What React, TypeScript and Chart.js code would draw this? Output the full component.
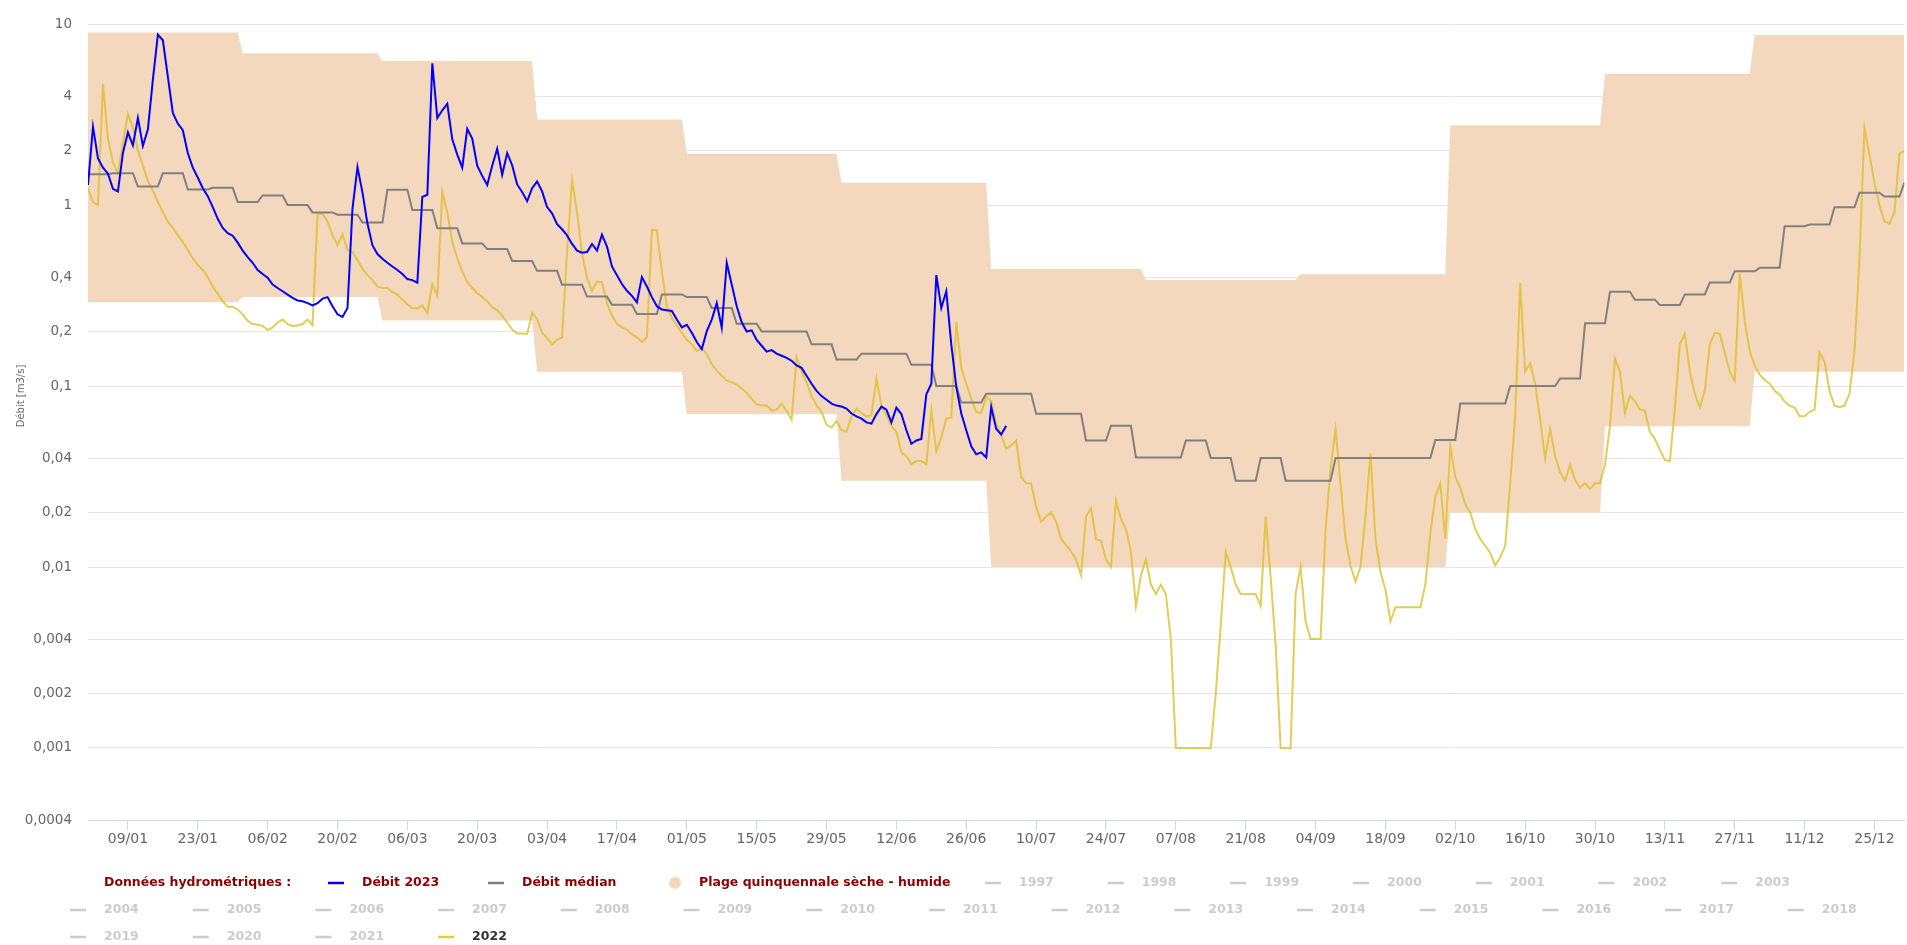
import React, { useEffect, useRef } from 'react';
import { Chart, registerables } from 'chart.js';

Chart.register(...registerables);

// ---------- DATA ----------
const monthDays = [31, 28, 31, 30, 31, 30, 31, 31, 30, 31, 30, 31];
const bandUpperMonthly = [9.0, 6.9, 6.25, 2.97, 1.92, 1.33, 0.443, 0.385, 0.415, 2.76, 5.32, 8.7];
const bandLowerMonthly = [0.29, 0.31, 0.23, 0.12, 0.07, 0.03, 0.01, 0.01, 0.01, 0.02, 0.06, 0.12];

// median, one value per 5-day block (73 blocks), plus the last day
const medianBlocks = [
  1.48, 1.5, 1.265, 1.5, 1.22, 1.245, 1.04, 1.13, 1.0, 0.911,
  0.885, 0.8, 1.217, 0.94, 0.745, 0.614, 0.571, 0.491, 0.433, 0.363,
  0.312, 0.281, 0.25, 0.321, 0.31, 0.27, 0.221, 0.2, 0.2, 0.17,
  0.14, 0.151, 0.151, 0.131, 0.1, 0.081, 0.0906, 0.0906, 0.0702, 0.0702,
  0.05, 0.0603, 0.0403, 0.0403, 0.05, 0.04, 0.03, 0.04, 0.03, 0.03,
  0.04, 0.04, 0.04, 0.04, 0.0503, 0.08, 0.08, 0.1, 0.1, 0.11,
  0.222, 0.332, 0.3, 0.28, 0.321, 0.373, 0.431, 0.45, 0.764, 0.78,
  0.974, 1.17, 1.115,
];
const medianDec31 = 1.33;

const flow2022 = [
  1.24, 1.04, 1.0, 4.68, 2.31, 1.72, 1.5, 2.21, 3.19, 2.67,
  2.0, 1.65, 1.36, 1.2, 1.04, 0.914, 0.81, 0.748, 0.68, 0.627,
  0.564, 0.508, 0.467, 0.438, 0.4, 0.355, 0.323, 0.294, 0.274, 0.274,
  0.265, 0.249, 0.229, 0.22, 0.218, 0.215, 0.204, 0.211, 0.225, 0.233,
  0.22, 0.215, 0.216, 0.22, 0.233, 0.217, 0.895, 0.895, 0.813, 0.68,
  0.6, 0.69, 0.564, 0.55, 0.497, 0.445, 0.41, 0.385, 0.355, 0.348,
  0.348, 0.33, 0.32, 0.3, 0.283, 0.27, 0.268, 0.279, 0.253, 0.366,
  0.316, 1.18, 0.914, 0.627, 0.508, 0.43, 0.376, 0.348, 0.326, 0.31,
  0.294, 0.273, 0.262, 0.245, 0.225, 0.205, 0.195, 0.195, 0.194, 0.253,
  0.235, 0.197, 0.184, 0.17, 0.18, 0.186, 0.55, 1.38, 0.914, 0.54,
  0.397, 0.336, 0.378, 0.375, 0.287, 0.245, 0.221, 0.211, 0.205, 0.193,
  0.186, 0.175, 0.186, 0.73, 0.725, 0.43, 0.276, 0.238, 0.215, 0.197,
  0.18, 0.17, 0.156, 0.163, 0.15, 0.132, 0.122, 0.114, 0.107, 0.105,
  0.102, 0.097, 0.092, 0.085, 0.079, 0.078, 0.078, 0.073, 0.074, 0.08,
  0.073, 0.065, 0.144, 0.12, 0.105, 0.088, 0.078, 0.072, 0.061, 0.059,
  0.064, 0.057, 0.056, 0.068, 0.075, 0.071, 0.068, 0.069, 0.11, 0.078,
  0.069, 0.06, 0.056, 0.043, 0.041, 0.037, 0.0385, 0.0385, 0.037, 0.0735,
  0.0435, 0.052, 0.066, 0.067, 0.226, 0.126, 0.103, 0.085, 0.072, 0.071,
  0.0875, 0.083, 0.062, 0.0535, 0.045, 0.047, 0.05, 0.0315, 0.029, 0.029,
  0.0215, 0.0178, 0.019, 0.02, 0.0178, 0.0143, 0.0132, 0.0122, 0.011, 0.009,
  0.019, 0.0212, 0.0142, 0.014, 0.011, 0.01, 0.0233, 0.0184, 0.0162, 0.0121,
  0.0061, 0.009, 0.011, 0.008, 0.0071, 0.008, 0.0071, 0.004, 0.001, 0.001,
  0.001, 0.001, 0.001, 0.001, 0.001, 0.001, 0.002, 0.0048, 0.0121, 0.01,
  0.008, 0.0071, 0.0071, 0.0071, 0.0071, 0.0061, 0.019, 0.0088, 0.0037, 0.001,
  0.001, 0.001, 0.0071, 0.01, 0.005, 0.004, 0.004, 0.004, 0.016, 0.035,
  0.058, 0.029, 0.0143, 0.0102, 0.0083, 0.01, 0.019, 0.0425, 0.0143, 0.0094,
  0.0075, 0.005, 0.006, 0.006, 0.006, 0.006, 0.006, 0.006, 0.008, 0.0154,
  0.0245, 0.029, 0.0143, 0.0465, 0.0315, 0.0275, 0.0222, 0.02, 0.0162, 0.0143,
  0.0131, 0.012, 0.0102, 0.0113, 0.0131, 0.029, 0.068, 0.37, 0.12, 0.1335,
  0.103, 0.0655, 0.0398, 0.058, 0.041, 0.0335, 0.03, 0.0368, 0.0303, 0.0275,
  0.029, 0.027, 0.029, 0.029, 0.037, 0.06, 0.142, 0.12, 0.0713, 0.088,
  0.0825, 0.074, 0.073, 0.0556, 0.051, 0.0445, 0.039, 0.0385, 0.075, 0.17,
  0.194, 0.12, 0.0906, 0.076, 0.094, 0.17, 0.197, 0.195, 0.153, 0.12,
  0.107, 0.42, 0.229, 0.156, 0.13, 0.116, 0.108, 0.103, 0.094, 0.09,
  0.082, 0.078, 0.076, 0.068, 0.068, 0.072, 0.074, 0.153, 0.136, 0.094,
  0.078, 0.0765, 0.078, 0.0906, 0.156, 0.51, 2.67, 1.9, 1.33, 1.0,
  0.813, 0.79, 0.914, 1.92, 2.0,
];

const flow2023 = [
  1.29, 2.71, 1.81, 1.61, 1.49, 1.23, 1.19, 1.94, 2.52, 2.14,
  3.03, 2.12, 2.62, 4.92, 8.74, 8.14, 5.13, 3.23, 2.82, 2.59,
  1.94, 1.61, 1.42, 1.24, 1.12, 0.974, 0.84, 0.748, 0.7, 0.677,
  0.62, 0.56, 0.515, 0.48, 0.438, 0.416, 0.397, 0.364, 0.348, 0.334,
  0.32, 0.307, 0.297, 0.294, 0.287, 0.279, 0.287, 0.304, 0.31, 0.276,
  0.249, 0.241, 0.27, 0.954, 1.62, 1.175, 0.79, 0.6, 0.536, 0.505,
  0.48, 0.458, 0.438, 0.416, 0.39, 0.385, 0.373, 1.11, 1.14, 6.07,
  3.03, 3.34, 3.63, 2.31, 1.9, 1.61, 2.64, 2.33, 1.65, 1.45,
  1.29, 1.65, 2.05, 1.47, 1.94, 1.66, 1.3, 1.18, 1.05, 1.24,
  1.35, 1.19, 0.975, 0.9, 0.785, 0.735, 0.68, 0.61, 0.56, 0.545,
  0.55, 0.61, 0.56, 0.686, 0.59, 0.458, 0.41, 0.366, 0.336, 0.315,
  0.29, 0.4, 0.355, 0.31, 0.276, 0.265, 0.262, 0.26, 0.233, 0.211,
  0.218, 0.197, 0.175, 0.16, 0.201, 0.233, 0.287, 0.21, 0.48, 0.364,
  0.276, 0.225, 0.2, 0.203, 0.18, 0.167, 0.155, 0.158, 0.151, 0.147,
  0.143, 0.138, 0.13, 0.126, 0.114, 0.103, 0.094, 0.088, 0.084, 0.08,
  0.078, 0.077, 0.075, 0.0705, 0.068, 0.066, 0.063, 0.062, 0.07, 0.077,
  0.074, 0.063, 0.076, 0.07, 0.057, 0.048, 0.05, 0.051, 0.09, 0.103,
  0.41, 0.27, 0.334, 0.17, 0.099, 0.0705, 0.057, 0.0465, 0.042, 0.043,
  0.0403, 0.0766, 0.058, 0.054, 0.0603,
];

const yTicks = [0.0004, 0.001, 0.002, 0.004, 0.01, 0.02, 0.04, 0.1, 0.2, 0.4, 1, 2, 4, 10];
const xTickDays = [8, 22, 36, 50, 64, 78, 92, 106, 120, 134, 148, 162, 176, 190, 204, 218, 232, 246, 260, 274, 288, 302, 316, 330, 344, 358];
const xTickLabels = ['09/01', '23/01', '06/02', '20/02', '06/03', '20/03', '03/04', '17/04', '01/05', '15/05', '29/05', '12/06', '26/06', '10/07', '24/07', '07/08', '21/08', '04/09', '18/09', '02/10', '16/10', '30/10', '13/11', '27/11', '11/12', '25/12'];
const legendYears = ['1997', '1998', '1999', '2000', '2001', '2002', '2003', '2004', '2005', '2006', '2007', '2008', '2009', '2010', '2011', '2012', '2013', '2014', '2015', '2016', '2017', '2018', '2019', '2020', '2021', '2022'];

// ---------- STYLE ----------
const FONT = '"DejaVu Sans", "Noto Sans", sans-serif';
const BAND_COLOR = '#f3d8be';
const C2023 = '#0000ff';
const CMED = '#808080';
const C2022 = 'rgba(222,190,40,0.78)';
const LEG_RED = '#8b0000';
const LEG_OFF = '#cccccc';

function expandMonthly(vals: number[]) {
  const out: { x: number; y: number }[] = [];
  let d = 0;
  monthDays.forEach((n, m) => {
    for (let i = 0; i < n; i++) { out.push({ x: d, y: vals[m] }); d++; }
  });
  return out;
}

const overlayPlugin = {
  id: 'overlay',
  afterDraw(chart: any) {
    const ctx: CanvasRenderingContext2D = chart.ctx;
    ctx.save();
    // axis title
    ctx.translate(21, 396);
    ctx.rotate(-Math.PI / 2);
    ctx.font = `10px ${FONT}`;
    ctx.fillStyle = '#666666';
    ctx.textAlign = 'center';
    ctx.textBaseline = 'middle';
    ctx.fillText('Débit [m3/s]', 0, 0);
    ctx.restore();

    // legend
    ctx.save();
    ctx.font = `bold 12.5px ${FONT}`;
    ctx.textBaseline = 'middle';
    ctx.textAlign = 'left';
    type Item = { text: string; x: number; y: number; color: string; sym: string; symColor: string };
    const items: Item[] = [];
    const r1 = 883, r2 = 910, r3 = 937, step = 122.7;
    items.push({ text: 'Données hydrométriques :', x: 104, y: r1, color: LEG_RED, sym: 'none', symColor: '' });
    items.push({ text: 'Débit 2023', x: 362, y: r1, color: LEG_RED, sym: 'line', symColor: C2023 });
    items.push({ text: 'Débit médian', x: 522, y: r1, color: LEG_RED, sym: 'line', symColor: CMED });
    items.push({ text: 'Plage quinquennale sèche - humide', x: 699, y: r1, color: LEG_RED, sym: 'circle', symColor: BAND_COLOR });
    legendYears.forEach((yr, i) => {
      let x: number, y: number;
      if (i < 7) { x = 1019 + i * step; y = r1; }
      else if (i < 22) { x = 104 + (i - 7) * step; y = r2; }
      else { x = 104 + (i - 22) * step; y = r3; }
      const on = yr === '2022';
      items.push({ text: yr, x, y, color: on ? '#333333' : LEG_OFF, sym: 'line', symColor: on ? '#e3c84a' : LEG_OFF });
    });
    items.forEach((it) => {
      if (it.sym === 'line') {
        ctx.strokeStyle = it.symColor;
        ctx.lineWidth = 2.5;
        ctx.beginPath();
        ctx.moveTo(it.x - 34, it.y);
        ctx.lineTo(it.x - 18, it.y);
        ctx.stroke();
      } else if (it.sym === 'circle') {
        ctx.fillStyle = it.symColor;
        ctx.beginPath();
        ctx.arc(it.x - 24, it.y, 6, 0, Math.PI * 2);
        ctx.fill();
      }
      ctx.fillStyle = it.color;
      ctx.fillText(it.text, it.x, it.y);
    });
    ctx.restore();
  },
};

export default function App() {
  const ref = useRef<HTMLCanvasElement | null>(null);

  useEffect(() => {
    if (!ref.current) return;
    Chart.defaults.font.family = FONT;

    const pts2022 = flow2022.map((v, i) => ({ x: i, y: v }));
    const pts2023 = flow2023.map((v, i) => ({ x: i, y: v }));
    const ptsMedian = flow2022.map((_, i) => ({ x: i, y: i === 364 ? medianDec31 : medianBlocks[Math.floor(i / 5)] }));
    const ptsUpper = expandMonthly(bandUpperMonthly);
    const ptsLower = expandMonthly(bandLowerMonthly);

    const chart = new Chart(ref.current, {
      type: 'line',
      data: {
        datasets: [
          { label: 'Débit 2023', data: pts2023, borderColor: C2023, borderWidth: 2, pointRadius: 0, fill: false, order: 0 },
          { label: 'Débit médian', data: ptsMedian, borderColor: CMED, borderWidth: 2, pointRadius: 0, fill: false, order: 1 },
          { label: '2022', data: pts2022, borderColor: C2022, borderWidth: 2, pointRadius: 0, fill: false, order: 2 },
          { label: 'Plage haut', data: ptsUpper, borderColor: 'transparent', borderWidth: 0, pointRadius: 0, backgroundColor: BAND_COLOR, fill: '+1', order: 3 },
          { label: 'Plage bas', data: ptsLower, borderColor: 'transparent', borderWidth: 0, pointRadius: 0, fill: false, order: 3 },
        ] as any,
      },
      options: {
        animation: false,
        responsive: false,
        maintainAspectRatio: false,
        devicePixelRatio: 1,
        layout: { padding: { top: 17, right: 2.6, left: 0, bottom: 0 } },
        elements: { line: { tension: 0 }, point: { radius: 0 } },
        plugins: { legend: { display: false }, tooltip: { enabled: false }, title: { display: false } },
        scales: {
          x: {
            type: 'linear',
            min: 0,
            max: 364,
            afterBuildTicks: (s: any) => { s.ticks = xTickDays.map((v) => ({ value: v })); },
            afterFit: (s: any) => { s.height = 125; },
            grid: { drawOnChartArea: false, drawTicks: true, tickLength: 10, color: '#ccd6eb', lineWidth: 1 },
            border: { color: '#ccd6eb', width: 1 },
            ticks: {
              autoSkip: false,
              maxRotation: 0,
              padding: 1,
              color: '#666666',
              font: { size: 14 },
              callback: (v: any) => { const i = xTickDays.indexOf(Number(v)); return i >= 0 ? xTickLabels[i] : ''; },
            },
          },
          y: {
            type: 'logarithmic',
            min: 0.0004,
            max: 10,
            afterBuildTicks: (s: any) => { s.ticks = yTicks.map((v) => ({ value: v })); },
            afterFit: (s: any) => { s.width = 88; },
            grid: { color: '#e6e6e6', drawTicks: false, lineWidth: 1 },
            border: { display: false },
            ticks: {
              autoSkip: false,
              padding: 16,
              color: '#666666',
              font: { size: 13.5 },
              callback: (v: any) => String(v).replace('.', ','),
            },
          },
        },
      } as any,
      plugins: [overlayPlugin],
    });
    return () => chart.destroy();
  }, []);

  return (
    <div style={{ position: 'fixed', left: 0, top: 0, width: 1907, height: 945, background: '#ffffff' }}>
      <canvas ref={ref} width={1907} height={945} style={{ display: 'block', width: 1907, height: 945 }} />
    </div>
  );
}
